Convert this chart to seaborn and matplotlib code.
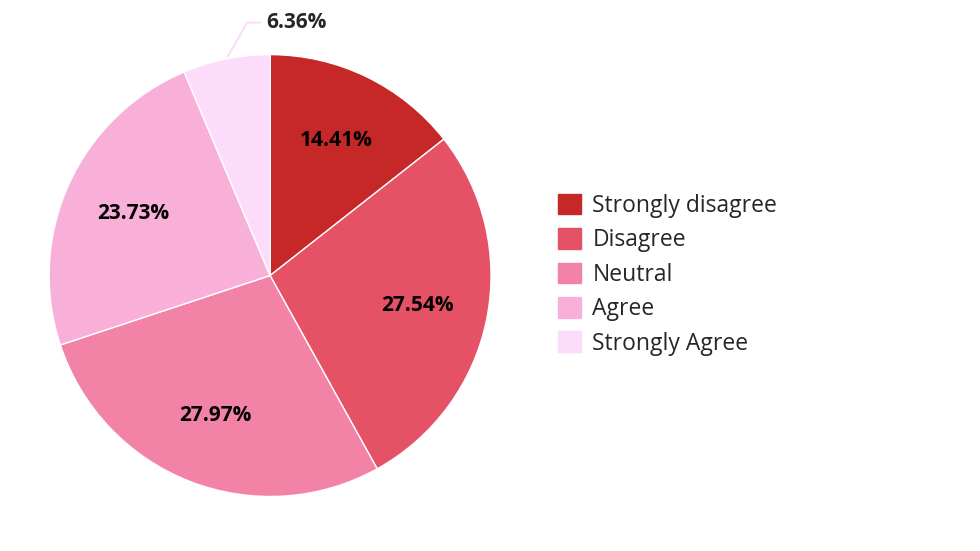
import matplotlib
matplotlib.use("Agg")
import matplotlib.pyplot as plt
import seaborn as sns
import numpy as np

sns.set_theme(style="white")
plt.rcParams['font.family'] = ['Open Sans', 'DejaVu Sans']

categories = ["Strongly disagree", "Disagree", "Neutral", "Agree", "Strongly Agree"]
values = [14.41, 27.54, 27.97, 23.73, 6.36]
colors = ["#C62828", "#E55165", "#F383A6", "#F8AFD8", "#FDDCFB"]

fig = plt.figure(figsize=(9.8, 5.51), dpi=100)
ax = fig.add_axes([0.0501, 0.0989, 0.451, 0.802])
wedges, texts, autotexts = ax.pie(values, colors=colors, startangle=90, counterclock=False,
                                  autopct=lambda p: f"{p:.2f}%", pctdistance=0.68,
                                  wedgeprops=dict(linewidth=1, edgecolor="white"),
                                  textprops=dict(fontsize=15, fontweight="bold", color="black"))
ax.set_xlim(-1, 1)
ax.set_ylim(-1, 1)
ax.set_aspect("equal")

w = wedges[-1]
ang = np.deg2rad((w.theta1 + w.theta2) / 2)
x0, y0 = np.cos(ang), np.sin(ang)
autotexts[-1].set_visible(False)
ax.annotate(autotexts[-1].get_text(), xy=(x0, y0), xytext=(0.12, 1.145),
            ha="center", va="center", fontsize=15, fontweight="bold",
            arrowprops=dict(arrowstyle="-", color="#FDDCFB", lw=1.5,
                            connectionstyle="angle,angleA=0,angleB=60"),
            annotation_clip=False)

handles = [plt.Rectangle((0, 0), 1, 1, color=c) for c in colors]
fig.legend(handles, categories, loc="upper left", bbox_to_anchor=(0.56, 0.665),
           frameon=False, fontsize=16.5, handlelength=1.0, handleheight=1.0,
           handletextpad=0.5, labelspacing=0.45, borderaxespad=0)

fig.savefig("out.png", dpi=100)
